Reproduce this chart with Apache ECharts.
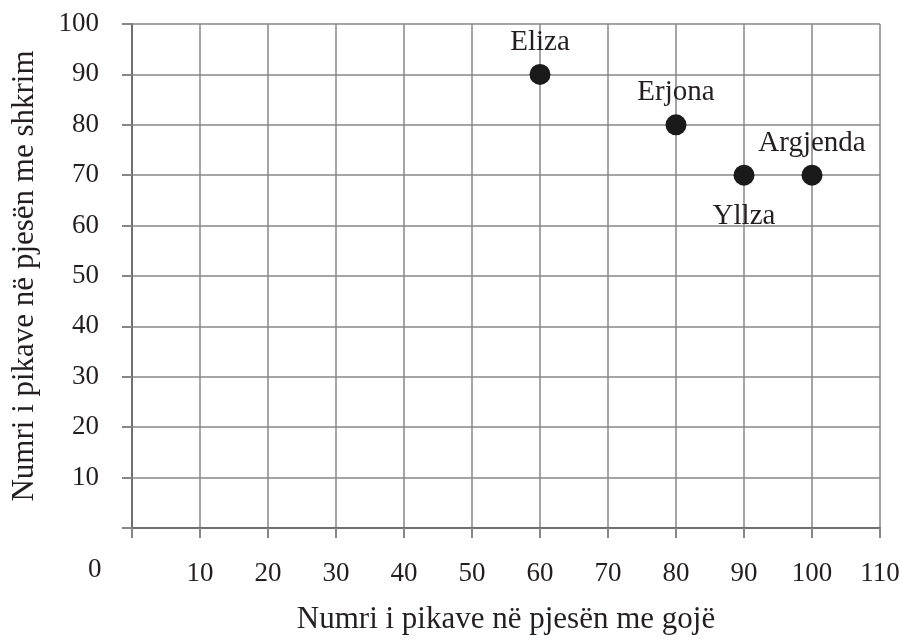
<!DOCTYPE html>
<html lang="sq">

<head>
    <meta charset="UTF-8">
    <script src="https://cdn.jsdelivr.net/npm/echarts@6/dist/echarts.min.js"></script>
    <title>Pikët</title>
    <style>
        html, body { margin: 0; padding: 0; background: #fff; }
        #chart { width: 907px; height: 641px; }
    </style>
</head>

<body>
    <div id="chart"></div>
    <script>
        // nxënësit dhe pikët e tyre
        var names = ['Eliza', 'Erjona', 'Yllza', 'Argjenda'];
        var oralScores = [60, 80, 90, 100];
        var writtenScores = [90, 80, 70, 70];
        var labelPos = ['top', 'top', 'bottom', 'top'];

        var font = '"Liberation Serif", "DejaVu Serif", serif';
        var textColor = '#231f20';
        var lineColor = '#878787';

        var points = names.map(function (n, i) {
            return {
                name: n,
                value: [oralScores[i], writtenScores[i]],
                label: { position: labelPos[i], distance: labelPos[i] === 'bottom' ? 16 : 7 }
            };
        });

        var myChart = echarts.init(document.getElementById('chart'));
        var option = {
            animation: false,
            grid: { left: 132, right: 27, top: 24, bottom: 113 },
            graphic: [{
                type: 'text',
                left: 88,
                top: 556,
                style: { text: '0', font: '27px ' + font, fill: textColor }
            }],
            xAxis: {
                type: 'value',
                min: 0, max: 110, interval: 10,
                name: 'Numri i pikave në pjesën me gojë',
                nameLocation: 'middle',
                nameGap: 76,
                nameTextStyle: { fontFamily: font, fontSize: 31, color: textColor },
                axisLine: { lineStyle: { color: '#707070', width: 2 } },
                axisTick: { show: true, length: 10, lineStyle: { color: lineColor, width: 2 } },
                splitLine: { show: true, lineStyle: { color: lineColor, width: 1.5 } },
                axisLabel: {
                    margin: 32,
                    fontFamily: font, fontSize: 27, color: textColor,
                    formatter: function (v) { return v === 0 ? '' : v; }
                }
            },
            yAxis: {
                type: 'value',
                min: 0, max: 100, interval: 10,
                name: 'Numri i pikave në pjesën me shkrim',
                nameLocation: 'middle',
                nameGap: 92,
                nameTextStyle: { fontFamily: font, fontSize: 31, color: textColor },
                axisLine: { show: true, lineStyle: { color: '#707070', width: 2 } },
                axisTick: { show: true, length: 10, lineStyle: { color: lineColor, width: 2 } },
                splitLine: { show: true, lineStyle: { color: lineColor, width: 1.5 } },
                axisLabel: {
                    margin: 33,
                    fontFamily: font, fontSize: 27, color: textColor,
                    formatter: function (v) { return v === 0 ? '' : v; }
                }
            },
            series: [{
                type: 'scatter',
                data: points,
                symbolSize: 21,
                itemStyle: { color: '#1a1a1a', opacity: 1 },
                label: {
                    show: true,
                    formatter: '{b}',
                    fontFamily: font, fontSize: 29, color: textColor
                }
            }]
        };
        myChart.setOption(option);
    </script>
</body>

</html>
